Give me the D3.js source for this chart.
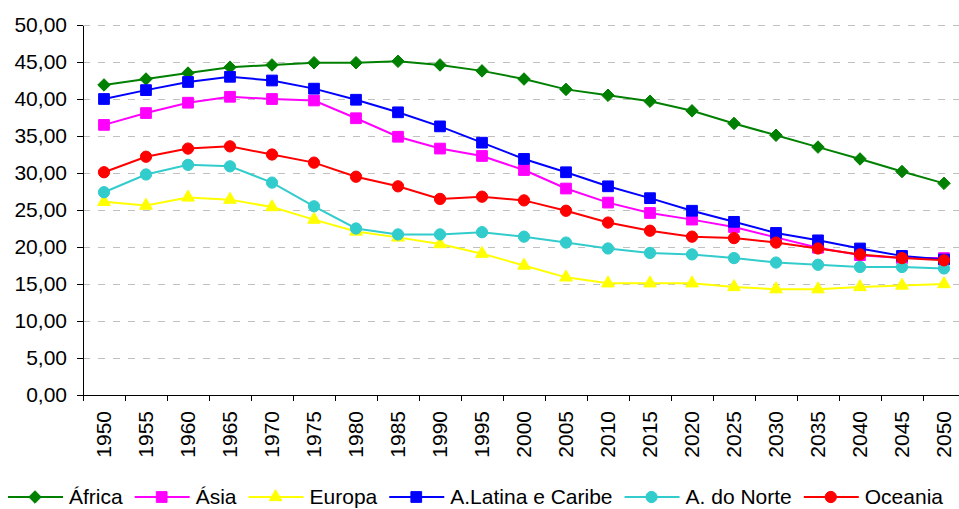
<!DOCTYPE html>
<html>
<head>
<meta charset="utf-8">
<script src="https://cdn.jsdelivr.net/npm/d3@7"></script>
<style>
  body { margin: 0; background: #fff; }
  svg { display: block; font-family: "Liberation Sans", Arial, sans-serif; }
</style>
</head>
<body>
<div id="chart"></div>
<script>
// data
const years = [1950, 1955, 1960, 1965, 1970, 1975, 1980, 1985, 1990, 1995, 2000,
  2005, 2010, 2015, 2020, 2025, 2030, 2035, 2040, 2045, 2050];

const africa   = [41.9, 42.7, 43.5, 44.3, 44.6, 44.9, 44.9, 45.1, 44.6, 43.8, 42.7, 41.3, 40.5, 39.7, 38.4, 36.7, 35.1, 33.5, 31.9, 30.2, 28.6];
const asia     = [36.5, 38.1, 39.5, 40.3, 40.0, 39.8, 37.4, 34.9, 33.3, 32.3, 30.4, 27.9, 26.0, 24.6, 23.7, 22.7, 21.3, 19.9, 18.9, 18.5, 18.5];
const europa   = [26.1, 25.6, 26.7, 26.4, 25.4, 23.7, 22.1, 21.3, 20.4, 19.1, 17.5, 15.9, 15.1, 15.1, 15.1, 14.6, 14.3, 14.3, 14.6, 14.8, 15.0];
const latina   = [40.0, 41.2, 42.3, 43.0, 42.5, 41.4, 39.9, 38.2, 36.3, 34.1, 31.9, 30.1, 28.2, 26.6, 24.9, 23.4, 21.9, 20.9, 19.8, 18.8, 18.3];
const norte    = [27.4, 29.8, 31.1, 30.9, 28.7, 25.5, 22.5, 21.7, 21.7, 22.0, 21.4, 20.6, 19.8, 19.2, 19.0, 18.5, 17.9, 17.6, 17.3, 17.3, 17.1];
const oceania  = [30.1, 32.2, 33.3, 33.6, 32.5, 31.4, 29.5, 28.2, 26.5, 26.8, 26.3, 24.9, 23.3, 22.2, 21.4, 21.2, 20.6, 19.8, 19.0, 18.5, 18.2];

const seriesNames = ["África", "Ásia", "Europa", "A.Latina e Caribe", "A. do Norte", "Oceania"];
const yTicks = [0, 5, 10, 15, 20, 25, 30, 35, 40, 45, 50];

const drawChart = () => {

  /*******************************/
  /*    Declare the constants    */
  /*******************************/
  const width = 959;
  const height = 509;
  const plot = { left: 83, top: 25, bottom: 395, right: 965 };

  const series = [
    { name: seriesNames[0], values: africa,  color: "#008000", symbol: d3.symbolDiamond2, size: 100 },
    { name: seriesNames[1], values: asia,    color: "#ff00ff", symbol: d3.symbolSquare,   size: 115 },
    { name: seriesNames[2], values: europa,  color: "#ffff00", symbol: d3.symbolTriangle, size: 70 },
    { name: seriesNames[3], values: latina,  color: "#0000ff", symbol: d3.symbolSquare,   size: 115 },
    { name: seriesNames[4], values: norte,   color: "#33cccc", symbol: d3.symbolCircle,   size: 100 },
    { name: seriesNames[5], values: oceania, color: "#ff0000", symbol: d3.symbolCircle,   size: 100 }
  ];

  const svg = d3.select("#chart")
    .append("svg")
    .attr("width", width)
    .attr("height", height);

  const xScale = d3.scaleBand()
    .domain(years)
    .range([plot.left, plot.right]);

  const yScale = d3.scaleLinear()
    .domain([0, 50])
    .range([plot.bottom, plot.top]);

  // gridlines
  svg.append("g")
    .selectAll("line")
    .data(yTicks.filter(d => d > 0))
    .join("line")
    .attr("x1", plot.left)
    .attr("x2", width)
    .attr("y1", d => yScale(d))
    .attr("y2", d => yScale(d))
    .attr("stroke", "#c0c0c0")
    .attr("stroke-width", 1)
    .attr("stroke-dasharray", "7,8")
    .attr("shape-rendering", "crispEdges");

  // y axis
  const leftAxis = d3.axisLeft(yScale)
    .tickValues(yTicks)
    .tickSize(6)
    .tickSizeOuter(0)
    .tickPadding(10)
    .tickFormat(d => d3.format(".2f")(d).replace(".", ","));

  const yAxisG = svg.append("g")
    .attr("transform", `translate(${plot.left}, 0)`)
    .call(leftAxis);
  yAxisG.selectAll("text")
    .attr("font-size", 21)
    .attr("font-family", "'Liberation Sans', Arial, sans-serif")
    .attr("fill", "#000");
  yAxisG.selectAll("line, path").attr("stroke", "#000").attr("shape-rendering", "crispEdges");

  // x axis: labels at band centres, ticks at band edges
  const bottomAxis = d3.axisBottom(xScale)
    .tickSize(0)
    .tickSizeOuter(0);

  const xAxisG = svg.append("g")
    .attr("transform", `translate(0, ${plot.bottom})`)
    .call(bottomAxis);
  xAxisG.select(".domain").attr("d", `M${plot.left},0H${width}`).attr("stroke", "#000")
    .attr("shape-rendering", "crispEdges");
  xAxisG.selectAll("text")
    .attr("font-size", 21)
    .attr("font-family", "'Liberation Sans', Arial, sans-serif")
    .attr("fill", "#000")
    .attr("transform", "rotate(-90)")
    .attr("text-anchor", "end")
    .attr("x", -16)
    .attr("y", 0)
    .attr("dy", "0.35em");

  xAxisG.append("g")
    .selectAll("line")
    .data(years)
    .join("line")
    .attr("x1", d => xScale(d))
    .attr("x2", d => xScale(d))
    .attr("y1", 0)
    .attr("y2", 6)
    .attr("stroke", "#000")
    .attr("shape-rendering", "crispEdges");

  // lines and markers
  const cx = i => xScale(years[i]) + xScale.bandwidth() / 2;
  const line = d3.line()
    .x((d, i) => cx(i))
    .y(d => yScale(d));

  series.forEach(s => {
    const g = svg.append("g");
    g.append("path")
      .attr("d", line(s.values))
      .attr("fill", "none")
      .attr("stroke", s.color)
      .attr("stroke-width", 2);
    g.selectAll("path.marker")
      .data(s.values)
      .join("path")
      .attr("class", "marker")
      .attr("d", d3.symbol().type(s.symbol).size(s.size))
      .attr("transform", (d, i) => `translate(${cx(i)}, ${yScale(d)})`)
      .attr("fill", s.color)
      .attr("stroke", s.color)
      .attr("stroke-width", 1);
  });

  // legend
  const legendY = 497;
  let lx = 8;
  series.forEach(s => {
    const item = svg.append("g");
    item.append("line")
      .attr("x1", lx)
      .attr("x2", lx + 55)
      .attr("y1", legendY)
      .attr("y2", legendY)
      .attr("stroke", s.color)
      .attr("stroke-width", 2);
    item.append("path")
      .attr("d", d3.symbol().type(s.symbol).size(s.size))
      .attr("transform", `translate(${lx + 27}, ${legendY})`)
      .attr("fill", s.color)
      .attr("stroke", s.color);
    const label = item.append("text")
      .text(s.name)
      .attr("x", lx + 61)
      .attr("y", legendY)
      .attr("dy", "0.35em")
      .attr("font-size", 21)
      .attr("fill", "#000");
    lx = lx + 61 + label.node().getComputedTextLength() + 12;
  });
};

drawChart();
</script>
</body>
</html>
